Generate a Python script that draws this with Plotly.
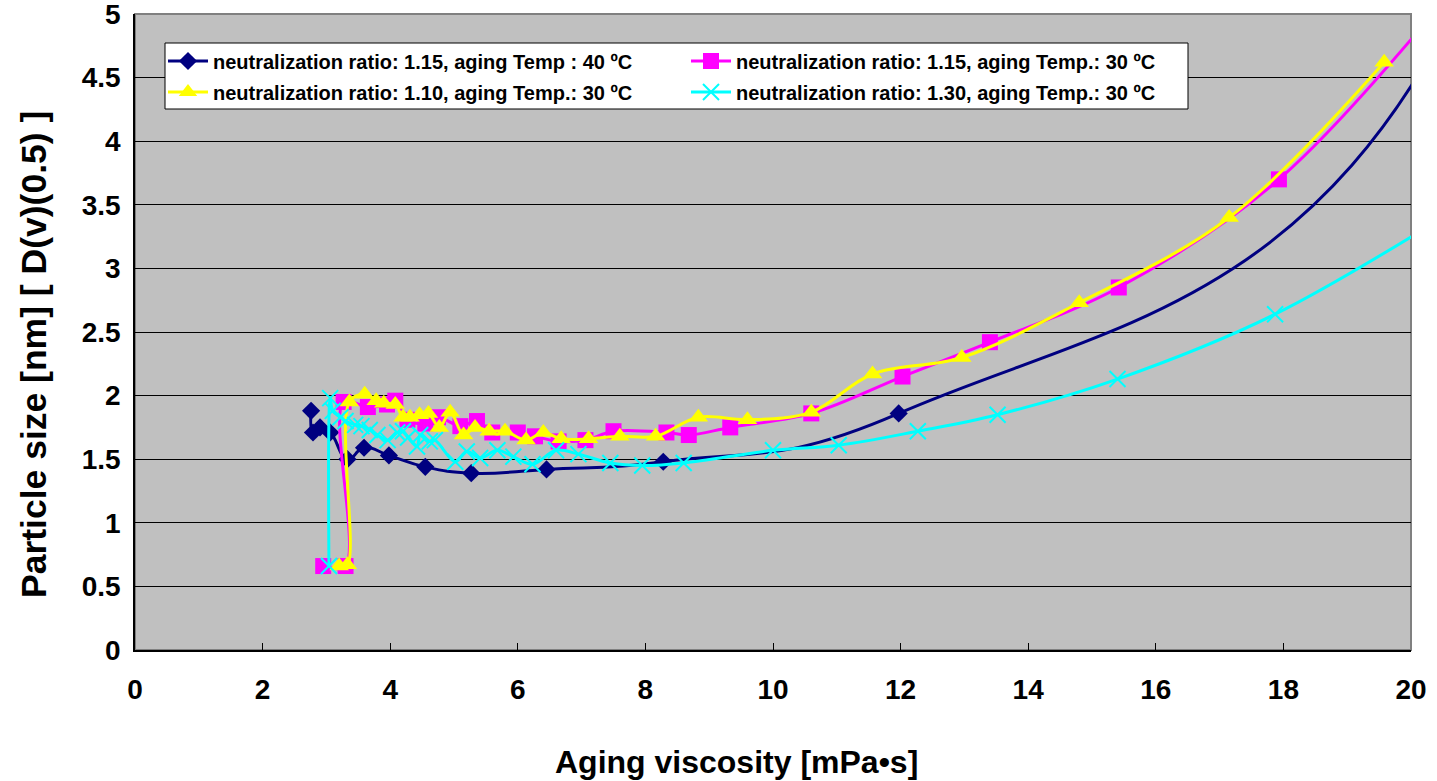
import plotly.graph_objects as go

# ---------------- data ----------------
navy_x = [2.76, 2.79, 2.90, 3.06, 3.33, 3.59, 3.98, 4.55, 5.27, 6.45, 8.28, 11.97, 20.6, 21.0]
navy_y = [1.88, 1.71, 1.75, 1.71, 1.50, 1.59, 1.53, 1.44, 1.39, 1.42, 1.48, 1.86, 4.95, 20.0]

mag_x = [2.95, 3.30, 3.27, 3.65, 3.95, 4.08, 4.27, 4.55, 4.75, 5.10, 5.36, 5.60, 6.00, 6.27,
         6.64, 7.06, 7.50, 8.33, 8.68, 9.33, 10.60, 12.03, 13.40, 15.42, 17.93, 21.0]
mag_y = [0.66, 0.66, 1.95, 1.91, 1.93, 1.96, 1.81, 1.78, 1.83, 1.76, 1.80, 1.71, 1.71, 1.68,
         1.64, 1.65, 1.72, 1.71, 1.69, 1.75, 1.86, 2.15, 2.42, 2.85, 3.70, 5.40]

yel_x = [3.20, 3.33, 3.36, 3.60, 3.78, 3.90, 4.08, 4.20, 4.31, 4.46, 4.60, 4.77, 4.94, 5.15,
         5.33, 5.55, 5.80, 6.13, 6.40, 6.68, 7.11, 7.60, 8.16, 8.83, 9.60, 10.60, 11.56,
         12.96, 14.80, 17.15, 19.58]
yel_y = [0.66, 0.67, 1.95, 2.01, 1.96, 1.94, 1.93, 1.83, 1.83, 1.85, 1.86, 1.75, 1.87, 1.69,
         1.75, 1.72, 1.72, 1.65, 1.71, 1.66, 1.66, 1.68, 1.68, 1.83, 1.81, 1.87, 2.17,
         2.30, 2.73, 3.40, 4.62]

cy_x = [3.04, 3.06, 3.10, 3.22, 3.30, 3.45, 3.55, 3.68, 3.80, 3.96, 4.11, 4.20, 4.28, 4.42,
        4.47, 4.62, 4.70, 5.02, 5.20, 5.41, 5.68, 5.93, 6.23, 6.60, 6.95, 7.45, 7.95, 8.60,
        10.00, 11.03, 12.27, 13.52, 15.40, 17.87, 21.2]
cy_y = [0.66, 1.98, 1.88, 1.83, 1.80, 1.77, 1.76, 1.73, 1.69, 1.65, 1.71, 1.72, 1.67, 1.60,
        1.69, 1.64, 1.65, 1.48, 1.56, 1.51, 1.57, 1.52, 1.46, 1.57, 1.54, 1.47, 1.45, 1.47,
        1.57, 1.61, 1.72, 1.85, 2.13, 2.64, 3.62]

names = [
    "neutralization ratio: 1.15, aging Temp : 40 ºC",
    "neutralization ratio: 1.15, aging Temp.: 30 ºC",
    "neutralization ratio: 1.10, aging Temp.: 30 ºC",
    "neutralization ratio: 1.30, aging Temp.: 30 ºC",
]

x_ticks = [0, 2, 4, 6, 8, 10, 12, 14, 16, 18, 20]
y_ticks = [0, 0.5, 1, 1.5, 2, 2.5, 3, 3.5, 4, 4.5, 5]
y_ticktext = ["0", "0.5", "1", "1.5", "2", "2.5", "3", "3.5", "4", "4.5", "5"]

FONT = "Liberation Sans, Arial, sans-serif"

fig = go.Figure()

fig.add_trace(go.Scatter(
    x=navy_x, y=navy_y, name=names[0], mode="lines+markers", legend="legend",
    line=dict(color="#000080", width=3, shape="spline", smoothing=1.3),
    marker=dict(symbol="diamond", size=14, color="#000080")))
fig.add_trace(go.Scatter(
    x=mag_x, y=mag_y, name=names[1], mode="lines+markers", legend="legend",
    line=dict(color="#FF00FF", width=3, shape="spline", smoothing=1.0),
    marker=dict(symbol="square", size=16, color="#FF00FF")))
fig.add_trace(go.Scatter(
    x=yel_x, y=yel_y, name=names[2], mode="lines+markers", legend="legend2",
    line=dict(color="#FFFF00", width=3, shape="spline", smoothing=1.0),
    marker=dict(symbol="triangle-up", size=17, color="#FFFF00")))
fig.add_trace(go.Scatter(
    x=cy_x, y=cy_y, name=names[3], mode="lines+markers", legend="legend2",
    line=dict(color="#00FFFF", width=3, shape="spline", smoothing=1.0),
    marker=dict(symbol="x-thin-open", size=16, color="#00FFFF",
                line=dict(color="#00FFFF", width=2))))

W, H = 1437, 781
L, R, T, B = 135, 26, 14, 131
pw, ph = W - L - R, H - T - B

def px2x(px):
    return (px - L) / pw

def py2y(py):
    return (H - B - py) / ph

legend_common = dict(
    orientation="h", xanchor="left", yanchor="middle",
    bgcolor="rgba(0,0,0,0)", borderwidth=0,
    entrywidth=468, entrywidthmode="pixels",
    font=dict(family=FONT, size=20, color="black", weight="bold"),
    itemwidth=40,
)

fig.update_layout(
    width=W, height=H,
    margin=dict(l=L, r=R, t=T, b=B, autoexpand=False),
    paper_bgcolor="white", plot_bgcolor="#C0C0C0",
    font=dict(family=FONT, color="black"),
    showlegend=True,
    legend=dict(x=px2x(163), y=py2y(61), **legend_common),
    legend2=dict(x=px2x(163), y=py2y(92), **legend_common),
    xaxis=dict(
        range=[0, 20], tickvals=x_ticks, ticktext=[str(v) for v in x_ticks],
        showgrid=False, zeroline=False,
        showline=True, linecolor="black", linewidth=1.5,
        ticks="inside", ticklen=7, tickcolor="black", tickwidth=1,
        tickfont=dict(family=FONT, size=28, color="black", weight="bold"),
        ticklabelstandoff=14,
    ),
    yaxis=dict(
        range=[0, 5.0001], tickvals=y_ticks, ticktext=y_ticktext,
        showgrid=True, gridcolor="black", gridwidth=1, zeroline=False,
        showline=True, linecolor="black", linewidth=1.5,
        ticks="",
        tickfont=dict(family=FONT, size=28, color="black", weight="bold"),
        ticklabelstandoff=7, ticklabeloverflow="allow",
    ),
    shapes=[
        dict(type="rect", xref="paper", yref="paper", x0=0, x1=1, y0=0, y1=1,
             line=dict(color="#808080", width=2), fillcolor="rgba(0,0,0,0)", layer="below"),
        dict(type="rect", xref="paper", yref="paper",
             x0=px2x(165), x1=px2x(1188), y0=py2y(109), y1=py2y(43),
             line=dict(color="black", width=1), fillcolor="white", layer="above"),
    ],
    annotations=[
        dict(text="Aging viscosity [mPa•s]", xref="paper", yref="paper",
             x=px2x(736), y=py2y(762), xanchor="center", yanchor="middle",
             showarrow=False, font=dict(family=FONT, size=32, color="black", weight="bold")),
        dict(text="Particle size [nm] [ D(v)(0.5) ]", xref="paper", yref="paper",
             x=px2x(34), y=py2y(355), xanchor="center", yanchor="middle", textangle=-90,
             showarrow=False, font=dict(family=FONT, size=35.5, color="black", weight="bold")),
    ],
)

fig.write_html("out.html")
